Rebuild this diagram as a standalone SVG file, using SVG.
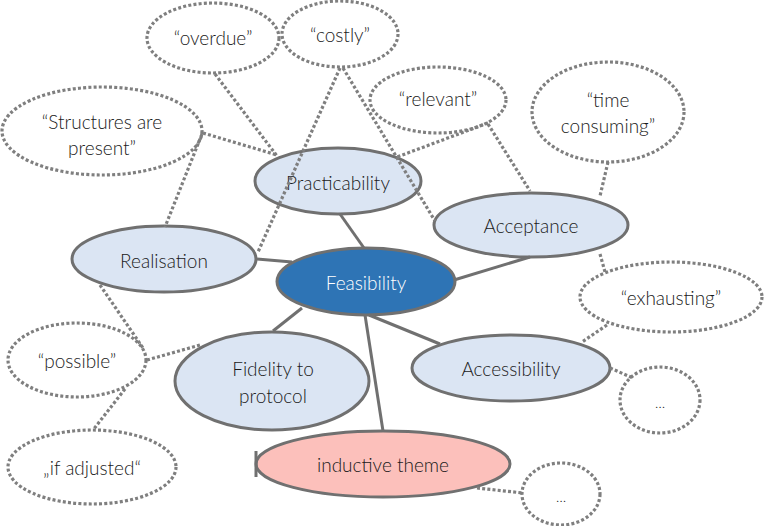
<svg xmlns="http://www.w3.org/2000/svg" width="764" height="526" viewBox="0 0 764 526">
<style>
.n{fill:#dbe5f3;stroke:#707070;stroke-width:3}
.d{fill:none;stroke:#7f7f7f;stroke-width:3.2;stroke-dasharray:3 2.2}
.s{fill:none;stroke:#707070;stroke-width:3}
.dl{fill:none;stroke:#7f7f7f;stroke-width:3.2;stroke-dasharray:3 2.2}
text{font-family:Lato,"Liberation Sans",sans-serif;font-weight:300;font-size:19px;fill:#1a1a1a;text-anchor:middle;dominant-baseline:central}
</style>
<rect width="764" height="526" fill="#ffffff"/>
<g id="overdue"><ellipse class="d" cx="213" cy="38" rx="66" ry="35"/><text x="213" y="37">“overdue”</text></g>
<g id="costly"><ellipse class="d" cx="340" cy="34" rx="58" ry="33"/><text x="340" y="34">“costly”</text></g>
<g id="structures"><ellipse class="d" cx="102" cy="131" rx="100" ry="44"/><text x="102" y="121">“Structures are</text><text x="102" y="147">present”</text></g>
<g id="relevant"><ellipse class="d" cx="438" cy="100" rx="68" ry="33"/><text x="438" y="98">“relevant”</text></g>
<g id="time"><ellipse class="d" cx="608" cy="112" rx="76" ry="50"/><text x="608" y="99">“time</text><text x="608" y="125">consuming”</text></g>
<g id="exhausting"><ellipse class="d" cx="671" cy="297" rx="91" ry="35"/><text x="671" y="297">“exhausting”</text></g>
<g id="dots1"><ellipse class="d" cx="660" cy="400" rx="40" ry="33"/><text x="660" y="402" style="font-size:14px">…</text></g>
<g id="dots2"><ellipse class="d" cx="561" cy="494" rx="39" ry="31"/><text x="561" y="496" style="font-size:14px">…</text></g>
<g id="possible"><ellipse class="d" cx="77" cy="360" rx="69" ry="37"/><text x="77" y="360">“possible”</text></g>
<g id="adjusted"><ellipse class="d" cx="92" cy="467" rx="84" ry="37"/><text x="92" y="467">„if adjusted“</text></g>
<g id="practicability"><ellipse class="n" cx="338" cy="181" rx="83" ry="33"/><text x="338" y="182">Practicability</text></g>
<g id="acceptance"><ellipse class="n" cx="531" cy="225" rx="97" ry="32"/><text x="531" y="225">Acceptance</text></g>
<g id="realisation"><ellipse class="n" cx="164" cy="259" rx="92" ry="33"/><text x="164" y="260">Realisation</text></g>
<g id="feasibility"><ellipse class="n" style="fill:#2e74b5" cx="366" cy="281.5" rx="89" ry="33.5"/><text x="366" y="282" style="fill:#ffffff">Feasibility</text></g>
<g id="fidelity"><ellipse class="n" cx="272" cy="381" rx="97" ry="49"/><text x="273" y="368">Fidelity to</text><text x="273" y="395">protocol</text></g>
<g id="accessibility"><ellipse class="n" cx="511" cy="368" rx="99" ry="33"/><text x="511" y="368">Accessibility</text></g>
<g id="inductive"><ellipse class="n" style="fill:#fcc0bb" cx="383" cy="464" rx="127" ry="33"/><line class="s" x1="256" y1="451" x2="256" y2="477"/><text x="383" y="464">inductive theme</text></g>
<g id="connectors">
<line class="s" x1="340" y1="214" x2="364" y2="248"/>
<line class="s" x1="257" y1="259" x2="292" y2="262"/>
<line class="s" x1="530" y1="257" x2="454" y2="280"/>
<line class="s" x1="273" y1="331" x2="302" y2="308"/>
<line class="s" x1="440" y1="344" x2="369" y2="315"/>
<line class="s" x1="365" y1="315" x2="383" y2="431"/>
<line class="dl" x1="215" y1="74" x2="277" y2="156"/>
<line class="dl" x1="203" y1="133" x2="277" y2="155"/>
<line class="dl" x1="202" y1="134" x2="165" y2="227"/>
<line class="dl" x1="340" y1="68" x2="258" y2="252"/>
<line class="dl" x1="343" y1="68" x2="435" y2="221"/>
<line class="dl" x1="488" y1="123" x2="397" y2="157"/>
<line class="dl" x1="488" y1="124" x2="530" y2="191"/>
<line class="dl" x1="608" y1="162" x2="600" y2="196"/>
<line class="dl" x1="600" y1="254" x2="605" y2="272"/>
<line class="dl" x1="607" y1="325" x2="582" y2="342"/>
<line class="dl" x1="610" y1="368" x2="633" y2="378"/>
<line class="dl" x1="477" y1="488" x2="523" y2="493"/>
<line class="dl" x1="100" y1="285" x2="143" y2="348"/>
<line class="dl" x1="147" y1="360" x2="200" y2="345"/>
<line class="dl" x1="125" y1="389" x2="93" y2="430"/>
</g>
</svg>
